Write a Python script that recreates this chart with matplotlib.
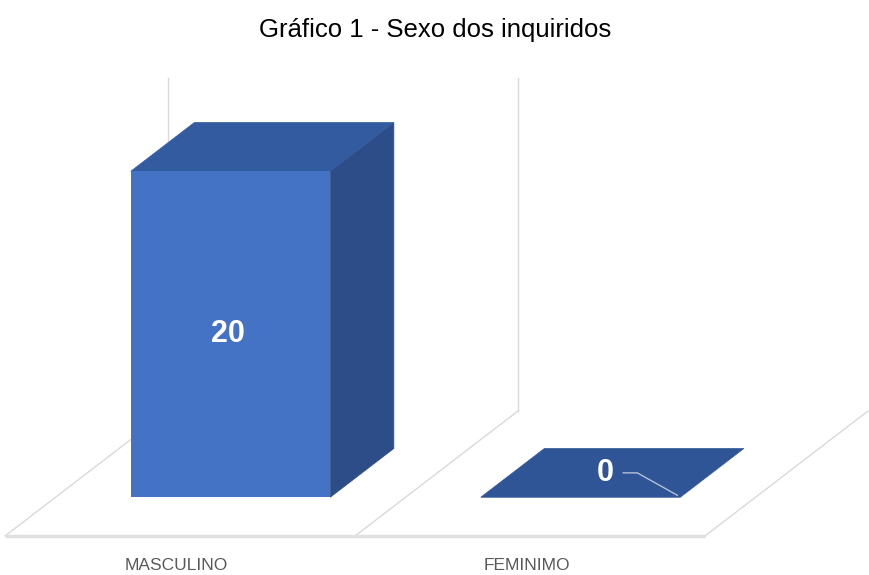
import matplotlib.pyplot as plt
from matplotlib.patches import Polygon
from matplotlib.transforms import IdentityTransform, ScaledTranslation

# Data
categories = ["MASCULINO", "FEMINIMO"]
values = [20, 0]
title = "Gráfico 1 - Sexo dos inquiridos"
wall_top = 20.4  # top of the back wall, in value units

# 3D look settings (pixels at dpi 100)
DX, DY = 163, 125          # full depth of the floor
bar_front, bar_back = 0.31, 0.70  # depth of bar faces (fraction of floor depth)
bar_width = 0.57
front_color = '#4472C4'
top_color = '#335B9F'
side_color = '#2D4D88'
grid_color = '#D9D9D9'

plt.rcParams['font.family'] = ['Liberation Sans', 'DejaVu Sans']

fig = plt.figure(figsize=(8.7, 5.75), dpi=100)
ax = fig.add_axes([0, 0, 1, 1])
ax.axis('off')
ax.set_xlim(-180 / 350, (870 - 180) / 350)
ax.set_ylim(-39 / 16.3, (575 - 39) / 16.3)

x = list(range(len(categories)))


def proj(xv, yv, d):
    # data point on the front plane, pushed back by depth d
    px, py = ax.transData.transform((xv, yv))
    return (px + d * DX, py + d * DY)


def face(points, color, z):
    ax.add_patch(Polygon(points, closed=True, facecolor=color, edgecolor=color,
                         linewidth=0.5, transform=IdentityTransform(), zorder=z))


# Floor
left, right = x[0] - 0.5, x[-1] + 0.5
face([proj(left, 0, 0), proj(right, 0, 0), proj(right, 0, 1), proj(left, 0, 1)], 'white', 1)
for i in range(len(categories) + 1):
    edge = left + i
    p0, p1 = proj(edge, 0, 0), proj(edge, 0, 1)
    ax.plot([p0[0], p1[0]], [p0[1], p1[1]], color=grid_color, lw=1,
            transform=IdentityTransform(), zorder=2)
    # back wall gridline (the last one falls outside the picture)
    if i < len(categories):
        p2 = proj(edge, wall_top, 1)
        ax.plot([p1[0], p2[0]], [p1[1], p2[1]], color=grid_color, lw=1,
                transform=IdentityTransform(), zorder=2)
p0, p1 = proj(left, 0, 0), proj(right, 0, 0)
ax.plot([p0[0], p1[0]], [p0[1], p1[1]], color='#E0E0E0', lw=2.5,
        transform=IdentityTransform(), zorder=2, solid_capstyle='butt')

# Bars: front face with ax.bar, side and top as polygons
front_shift = ax.transData + ScaledTranslation(bar_front * DX / 100, bar_front * DY / 100,
                                               fig.dpi_scale_trans)
ax.bar(x, values, width=bar_width, color=front_color, transform=front_shift, zorder=4)

for xi, v in zip(x, values):
    x0, x1 = xi - bar_width / 2, xi + bar_width / 2
    if v > 0:
        face([proj(x1, 0, bar_front), proj(x1, 0, bar_back),
              proj(x1, v, bar_back), proj(x1, v, bar_front)], side_color, 3)
    face([proj(x0, v, bar_front), proj(x1, v, bar_front),
          proj(x1, v, bar_back), proj(x0, v, bar_back)], top_color if v > 0 else '#2F5597', 3)

# Value labels
for xi, v in zip(x, values):
    if v > 0:
        px, py = proj(xi, v / 2, bar_front)
        ax.text(px - 3, py, str(v), color='white', fontsize=22, fontweight='bold',
                ha='center', va='center', transform=IdentityTransform(), zorder=6)
    else:
        px, py = proj(xi, 0, (bar_front + bar_back) / 2)
        px -= 7
        ax.text(px, py, str(v), color='white', fontsize=22, fontweight='bold',
                ha='center', va='center', transform=IdentityTransform(), zorder=6)
        cx, cy = proj(xi + bar_width / 2, 0, bar_front)
        ax.plot([px + 18, px + 32, cx - 3], [py, py, cy + 2], color='#B4C0D8', lw=1,
                transform=IdentityTransform(), zorder=6)

# Category labels below the floor
for xi, name in zip(x, categories):
    ax.text(xi - 0.01, -29 / 16.3, name, color='#595959', fontsize=12.5,
            ha='center', va='center', zorder=6)

fig.text(0.5, 1 - 30 / 575, title, fontsize=18.5, ha='center', va='center', color='black')

plt.savefig("out.png", dpi=100)
